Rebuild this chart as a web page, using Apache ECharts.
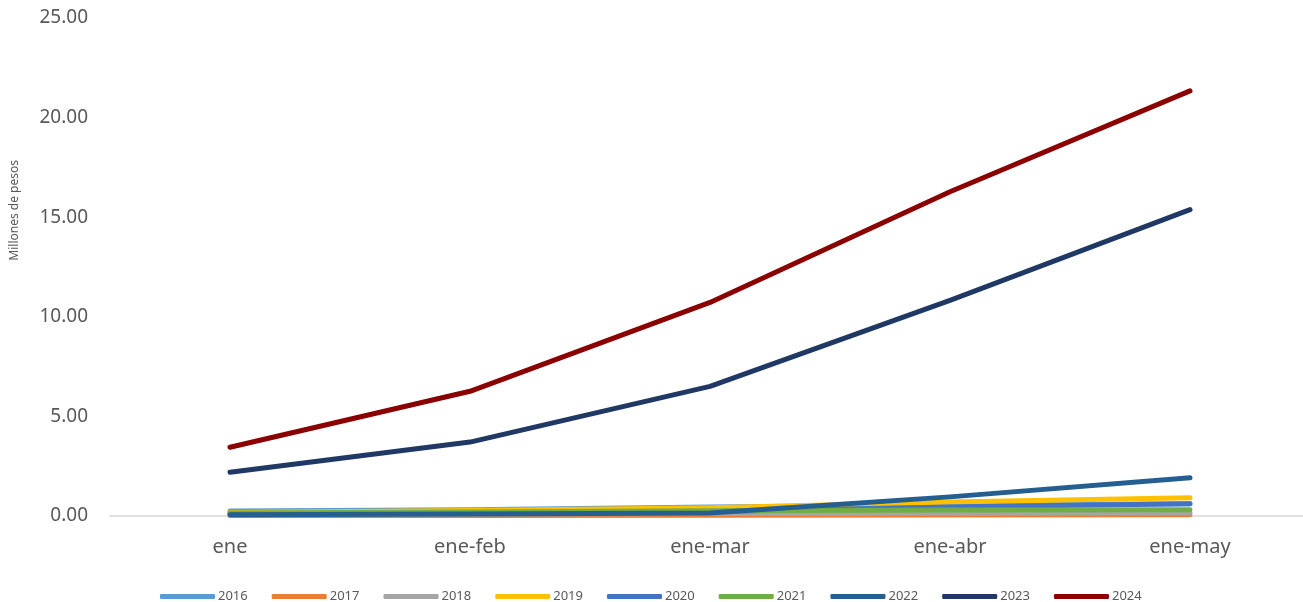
<!DOCTYPE html>
<html>
<head>
<meta charset="utf-8">
<script src="https://cdn.jsdelivr.net/npm/echarts@6/dist/echarts.min.js"></script>
<style>
  html, body { margin: 0; padding: 0; background: #fff; }
  #chart { width: 1303px; height: 602px; }
</style>
</head>
<body>
<div id="chart"></div>
<script>
// periodos acumulados
let categories = ['ene', 'ene-feb', 'ene-mar', 'ene-abr', 'ene-may'];
let years = ['2016', '2017', '2018', '2019', '2020', '2021', '2022', '2023', '2024'];
let colors = ['#5b9bd5', '#ed7d31', '#a5a5a5', '#ffc000', '#4472c4', '#70ad47', '#255e91', '#1f3864', '#8b0000'];

let data2016 = [0.25, 0.32, 0.45, 0.55, 0.62];
let data2017 = [0.02, 0.03, 0.04, 0.05, 0.06];
let data2018 = [0.08, 0.10, 0.12, 0.14, 0.16];
let data2019 = [0.18, 0.28, 0.42, 0.70, 0.92];
let data2020 = [0.10, 0.15, 0.22, 0.45, 0.62];
let data2021 = [0.15, 0.20, 0.26, 0.30, 0.32];
let data2022 = [0.06, 0.10, 0.15, 0.96, 1.92];
let data2023 = [2.20, 3.71, 6.51, 10.82, 15.38];
let data2024 = [3.45, 6.26, 10.72, 16.28, 21.34];

let yTicks = [0, 5, 10, 15, 20, 25];

let allData = [data2016, data2017, data2018, data2019, data2020, data2021, data2022, data2023, data2024];

let series = years.map(function (y, i) {
  return {
    name: y,
    type: 'line',
    data: allData[i],
    symbol: 'none',
    smooth: false,
    lineStyle: { width: 5, color: colors[i], cap: 'round', join: 'round' },
    itemStyle: { color: colors[i] },
    z: 2 + i
  };
});

let chart = echarts.init(document.getElementById('chart'));
chart.setOption({
  animation: false,
  grid: { left: 110, width: 1200, top: 18, bottom: 86, outerBoundsMode: 'none' },
  xAxis: {
    type: 'category',
    data: categories,
    boundaryGap: true,
    axisLine: { show: true, lineStyle: { color: '#d9d9d9', width: 1.5 } },
    axisTick: { show: false },
    axisLabel: { color: '#595959', fontSize: 20, fontFamily: 'Noto Sans', margin: 21 }
  },
  yAxis: {
    type: 'value',
    min: yTicks[0],
    max: yTicks[yTicks.length - 1],
    interval: 5,
    axisLine: { show: false },
    axisTick: { show: false },
    splitLine: { show: false },
    axisLabel: {
      color: '#595959', fontSize: 19, fontFamily: 'Noto Sans', margin: 22,
      formatter: function (v) { return v.toFixed(2); }
    }
  },
  legend: {
    top: 585,
    left: 155,
    itemWidth: 55,
    itemHeight: 5,
    itemGap: 24,
    icon: 'roundRect',
    textStyle: { color: '#595959', fontSize: 13, fontFamily: 'Noto Sans', padding: [0, 0, 0, -2] },
    data: years
  },
  graphic: [{
    type: 'text',
    left: 9,
    top: 160,
    rotation: Math.PI / 2,
    style: { text: 'Millones de pesos', fill: '#595959', fontSize: 12, fontFamily: 'Noto Sans' }
  }],
  series: series
});
</script>
</body>
</html>
